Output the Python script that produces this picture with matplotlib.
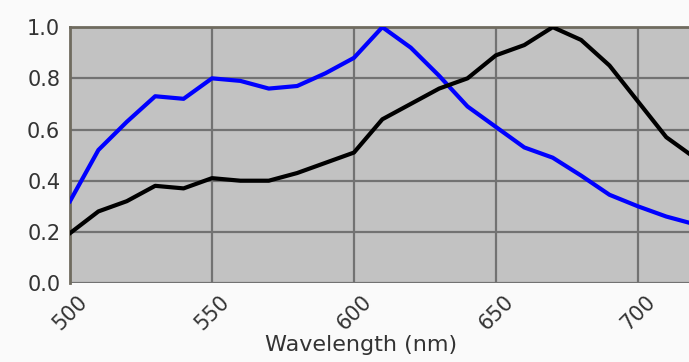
import matplotlib
matplotlib.use("Agg")
import matplotlib.pyplot as plt

wavelength = [500, 510, 520, 530, 540, 550, 560, 570, 580, 590, 600,
              610, 620, 630, 640, 650, 660, 670, 680, 690, 700, 710, 720]
blue_resp = [0.32, 0.52, 0.63, 0.73, 0.72, 0.80, 0.79, 0.76, 0.77, 0.82, 0.88,
             1.00, 0.92, 0.81, 0.69, 0.61, 0.53, 0.49, 0.42, 0.345, 0.30, 0.26, 0.23]
black_resp = [0.195, 0.28, 0.32, 0.38, 0.37, 0.41, 0.40, 0.40, 0.43, 0.47, 0.51,
              0.64, 0.70, 0.76, 0.80, 0.89, 0.93, 1.00, 0.95, 0.85, 0.71, 0.57, 0.49]
x_ticks = [500, 550, 600, 650, 700]
y_ticks = [0.0, 0.2, 0.4, 0.6, 0.8, 1.0]

plt.rcParams["font.family"] = ["DejaVu Sans"]

fig = plt.figure(figsize=(6.89, 3.62), dpi=100, facecolor="#fafafa")
ax = fig.add_axes([0.1016, 0.218, 0.8984, 0.707])
ax.set_facecolor("#c2c2c2")

ax.plot(wavelength, blue_resp, color="#0000ff", linewidth=3.0, zorder=3)
ax.plot(wavelength, black_resp, color="#000000", linewidth=3.0, zorder=3)

ax.set_xlim(500, 718)
ax.set_ylim(0, 1.0)
ax.set_xticks(x_ticks)
ax.set_yticks(y_ticks)
ax.set_yticklabels([f"{v:.1f}" for v in y_ticks], fontsize=15, color="#333333")
ax.set_xticklabels([str(v) for v in x_ticks], fontsize=15, color="#333333",
                   rotation=45, ha="center", va="top")
ax.grid(True, color="#727272", linewidth=1.6)
ax.set_axisbelow(True)
ax.tick_params(axis="y", length=0, pad=7)
ax.tick_params(axis="x", length=0, pad=6)
fig.text(0.524, 0.047, "Wavelength (nm)", fontsize=16, color="#333333",
         ha="center", va="center")

for side in ["left", "top"]:
    ax.spines[side].set_color("#6f6b5f")
    ax.spines[side].set_linewidth(2)
for side in ["right", "bottom"]:
    ax.spines[side].set_visible(False)

fig.savefig("out.png", dpi=100, facecolor=fig.get_facecolor())
